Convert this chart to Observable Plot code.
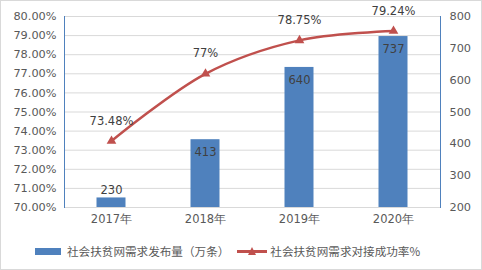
<!DOCTYPE html>
<html>
<head>
<meta charset="utf-8">
<script src="https://cdn.jsdelivr.net/npm/d3@7"></script>
<script src="https://cdn.jsdelivr.net/npm/@observablehq/plot@0.6"></script>
<style>
  html, body { margin: 0; padding: 0; background: #fff; }
  #wrap { position: relative; width: 482px; height: 270px; overflow: hidden; }
  #border { position: absolute; left: 0; top: 0; width: 482px; height: 270px; box-sizing: border-box; border: 1px solid #D9D9D9; pointer-events: none; }
  #chart { position: absolute; left: 0; top: 0; }
  #legend { position: absolute; left: 0; top: 243px; width: 482px; display: flex; align-items: center; font-family: "Noto Sans CJK SC", sans-serif; font-size: 11.6px; color: #595959; }
  .sw-bar { display: inline-block; width: 26px; height: 7px; background: #4F81BD; margin-left: 35px; margin-right: 6px; }
  .sw-line { display: inline-block; position: relative; width: 30px; height: 10px; margin-left: 8px; margin-right: 3px; }
  .sw-line i { position: absolute; left: 0; top: 4px; width: 30px; height: 3px; background: #C0504D; }
  .sw-line b { position: absolute; left: 11px; top: 1px; width: 0; height: 0; border-left: 4px solid transparent; border-right: 4px solid transparent; border-bottom: 8px solid #C0504D; }
</style>
</head>
<body>
<div id="wrap">
  <div id="chart"></div>
  <div id="legend"></div>
  <div id="border"></div>
</div>
<script>
const years = ["2017年", "2018年", "2019年", "2020年"];
const demand = [230, 413, 640, 737];          // 社会扶贫网需求发布量（万条）
const rate = [73.48, 77.00, 78.75, 79.24];    // 社会扶贫网需求对接成功率%
const rateLabels = ["73.48%", "77%", "78.75%", "79.24%"];
const leftTicks = [70, 71, 72, 73, 74, 75, 76, 77, 78, 79, 80];
const rightTicks = [200, 300, 400, 500, 600, 700, 800];
const seriesNames = ["社会扶贫网需求发布量（万条）", "社会扶贫网需求对接成功率%"];

const leftMin = leftTicks[0], leftMax = leftTicks[leftTicks.length - 1];
const rightMin = rightTicks[0], rightMax = rightTicks[rightTicks.length - 1];
const toLeft = v => leftMin + (v - rightMin) / (rightMax - rightMin) * (leftMax - leftMin);
const fromLeft = p => rightMin + (p - leftMin) / (leftMax - leftMin) * (rightMax - rightMin);

const data = years.map((y, i) => ({ year: y, demand: demand[i], d2: toLeft(demand[i]), rate: rate[i], label: rateLabels[i] }));

const font = "DejaVu Sans, sans-serif";
const plot = Plot.plot({
  width: 482,
  height: 232,
  marginTop: 16,
  marginBottom: 25,
  marginLeft: 64,
  marginRight: 42,
  style: { fontFamily: font, fontSize: "11px", background: "transparent" },
  x: { domain: years, padding: 0, label: null },
  y: { domain: [leftMin, leftMax], label: null },
  marks: [
    Plot.gridY(leftTicks, { stroke: "#D9D9D9", strokeOpacity: 1 }),
    Plot.barY(data, { x: "year", y1: leftMin, y2: "d2", fill: "#4F81BD", insetLeft: 32.5, insetRight: 32.5 }),
    Plot.axisX({ tickSize: 0, tickPadding: 7, fill: "#595959", fontSize: 11.5, label: null }),
    Plot.axisY(leftTicks, { anchor: "left", tickSize: 0, tickPadding: 8, fill: "#595959", fontSize: 11.3, tickFormat: d => d.toFixed(2) + "%", label: null }),
    Plot.axisY(rightTicks.map(toLeft), { anchor: "right", tickSize: 0, tickPadding: 9, fill: "#595959", fontSize: 11.3, tickFormat: d => String(Math.round(fromLeft(d))), label: null }),
    Plot.frame({ anchor: "left", stroke: "#4F81BD" }),
    Plot.frame({ anchor: "right", stroke: "#4F81BD" }),
    Plot.line(data, { x: "year", y: "rate", stroke: "#C0504D", strokeWidth: 2.5, curve: "catmull-rom" }),
    Plot.dot(data, { x: "year", y: "rate", symbol: "triangle", fill: "#C0504D", stroke: "none", r: 3.6 }),
    Plot.text(data, { x: "year", y: "rate", text: "label", dy: -20, fill: "#404040", fontSize: 11.5 }),
    Plot.text(data.filter(d => d.d2 - leftMin >= 1), { x: "year", y: "d2", text: d => String(d.demand), dy: 13, fill: "#404040", fontSize: 11.5 }),
    Plot.text(data.filter(d => d.d2 - leftMin < 1), { x: "year", y: "d2", text: d => String(d.demand), dy: -8, fill: "#404040", fontSize: 11.5 })
  ]
});
document.getElementById("chart").appendChild(plot);

const lg = document.getElementById("legend");
lg.innerHTML = `<span class="sw-bar"></span><span>${seriesNames[0]}</span><span class="sw-line"><i></i><b></b></span><span>${seriesNames[1]}</span>`;
</script>
</body>
</html>
